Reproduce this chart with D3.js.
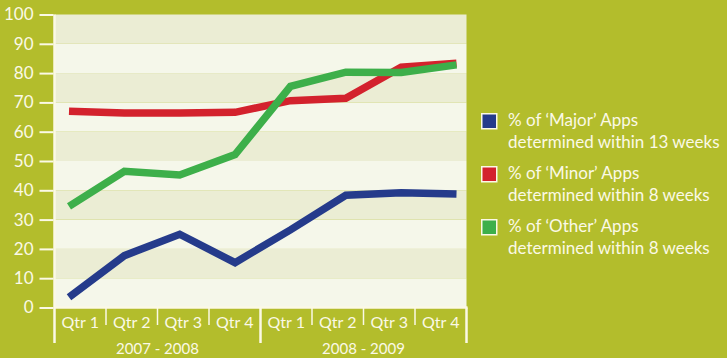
<!DOCTYPE html>
<html>
<head>
<meta charset="utf-8">
<script src="https://cdn.jsdelivr.net/npm/d3@7"></script>
<style>
html,body{margin:0;padding:0;background:#b3bd2c;}
svg{display:block;}
text{font-family:Lato, "Open Sans", sans-serif;fill:#fbf9e6;}
</style>
</head>
<body>
<svg id="chart" width="727" height="358"></svg>
<script>
const quarters = ["Qtr 1","Qtr 2","Qtr 3","Qtr 4","Qtr 1","Qtr 2","Qtr 3","Qtr 4"];
const years = ["2007 - 2008","2008 - 2009"];
const yTicks = [0,10,20,30,40,50,60,70,80,90,100];
const major = [3.5, 17.7, 25, 15.3, 26.5, 38.3, 39.2, 38.7];
const minor = [67, 66.4, 66.4, 66.6, 70.6, 71.4, 82, 83.4];
const other = [34.5, 46.5, 45.2, 52.2, 75.5, 80.3, 80.2, 82.8];
const seriesNames = [
  ["% of \u2018Major\u2019 Apps","determined within 13 weeks"],
  ["% of \u2018Minor\u2019 Apps","determined within 8 weeks"],
  ["% of \u2018Other\u2019 Apps","determined within 8 weeks"]
];
const colors = ["#253b8b","#d3222d","#3daf4a"];

const svg = d3.select("#chart");
const W = 727, H = 358;
svg.append("rect").attr("width",W).attr("height",H).attr("fill","#b3bd2c");

const plotL = 54.5, plotR = 466.5, plotT = 14.5, plotB = 307.5;
const y = d3.scaleLinear().domain([0,100]).range([plotB, plotT]);
const idx = d3.range(quarters.length);
const xBand = d3.scaleBand().domain(idx).range([plotL, plotR]).padding(0);
const xPt = d3.scalePoint().domain(idx).range([69, 456.5]);

// background bands
const bands = d3.range(0,100,10);
svg.append("g").selectAll("rect").data(bands).join("rect")
  .attr("x", plotL).attr("width", plotR - plotL)
  .attr("y", d => y(d+10)).attr("height", d => y(d) - y(d+10))
  .attr("fill", d => (d/10)%2===1 ? "#ebedd4" : "#f5f7ea");

// y axis
const yAxis = d3.axisLeft(y).tickValues(yTicks).tickSize(14).tickPadding(6);
const gy = svg.append("g").attr("transform", `translate(${plotL-1},0)`).call(yAxis);
gy.select(".domain").remove();
gy.selectAll("line").attr("stroke","#fbf9e6").attr("stroke-width",2);
gy.selectAll("text").attr("font-size",17).attr("fill","#fbf9e6").attr("font-family","Lato, sans-serif");

// axis lines
svg.append("line").attr("x1",plotL).attr("x2",plotL).attr("y1",plotT).attr("y2",343)
  .attr("stroke","#fbf9e6").attr("stroke-width",2.5);
svg.append("line").attr("x1",plotL).attr("x2",plotR+1).attr("y1",plotB).attr("y2",plotB)
  .attr("stroke","#fbf9e6").attr("stroke-width",2.5);

// category separators
const seps = d3.range(1, quarters.length+1);
svg.append("g").selectAll("line").data(seps).join("line")
  .attr("x1", i => i===quarters.length ? plotR : xBand(i))
  .attr("x2", i => i===quarters.length ? plotR : xBand(i))
  .attr("y1", plotB)
  .attr("y2", i => (i%4===0) ? 343 : 325)
  .attr("stroke", "#fbf9e6")
  .attr("stroke-width", i => (i%4===0) ? 2.5 : 1.5);

// quarter labels
svg.append("g").selectAll("text").data(idx).join("text")
  .attr("x", i => xBand(i) + xBand.bandwidth()/2)
  .attr("y", 328)
  .attr("text-anchor","middle").attr("font-size",16)
  .text(i => quarters[i]);

// year labels
svg.append("g").selectAll("text").data(years).join("text")
  .attr("x", (d,i) => (xBand(i*4) + xBand(i*4+3) + xBand.bandwidth())/2)
  .attr("y", 354)
  .attr("text-anchor","middle").attr("font-size",15)
  .text(d => d);

// lines
const line = d3.line().x((d,i) => xPt(i)).y(d => y(d));
[major, minor, other].forEach((s, k) => {
  svg.append("path").datum(s).attr("d", line)
    .attr("fill","none").attr("stroke", colors[k]).attr("stroke-width", 7.5)
    .attr("stroke-linejoin","miter");
});

// legend
const leg = svg.append("g").attr("transform","translate(481,113)");
seriesNames.forEach((lines, k) => {
  const g = leg.append("g").attr("transform", `translate(0,${k*53})`);
  g.append("rect").attr("x",0.75).attr("y",0.75).attr("width",15).attr("height",15)
    .attr("fill", colors[k]).attr("stroke","#fbf9e6").attr("stroke-width",1.5);
  lines.forEach((t, j) => {
    g.append("text").attr("x", 27).attr("y", 13 + j*21.5)
      .attr("font-size", 17).text(t);
  });
});
</script>
</body>
</html>
